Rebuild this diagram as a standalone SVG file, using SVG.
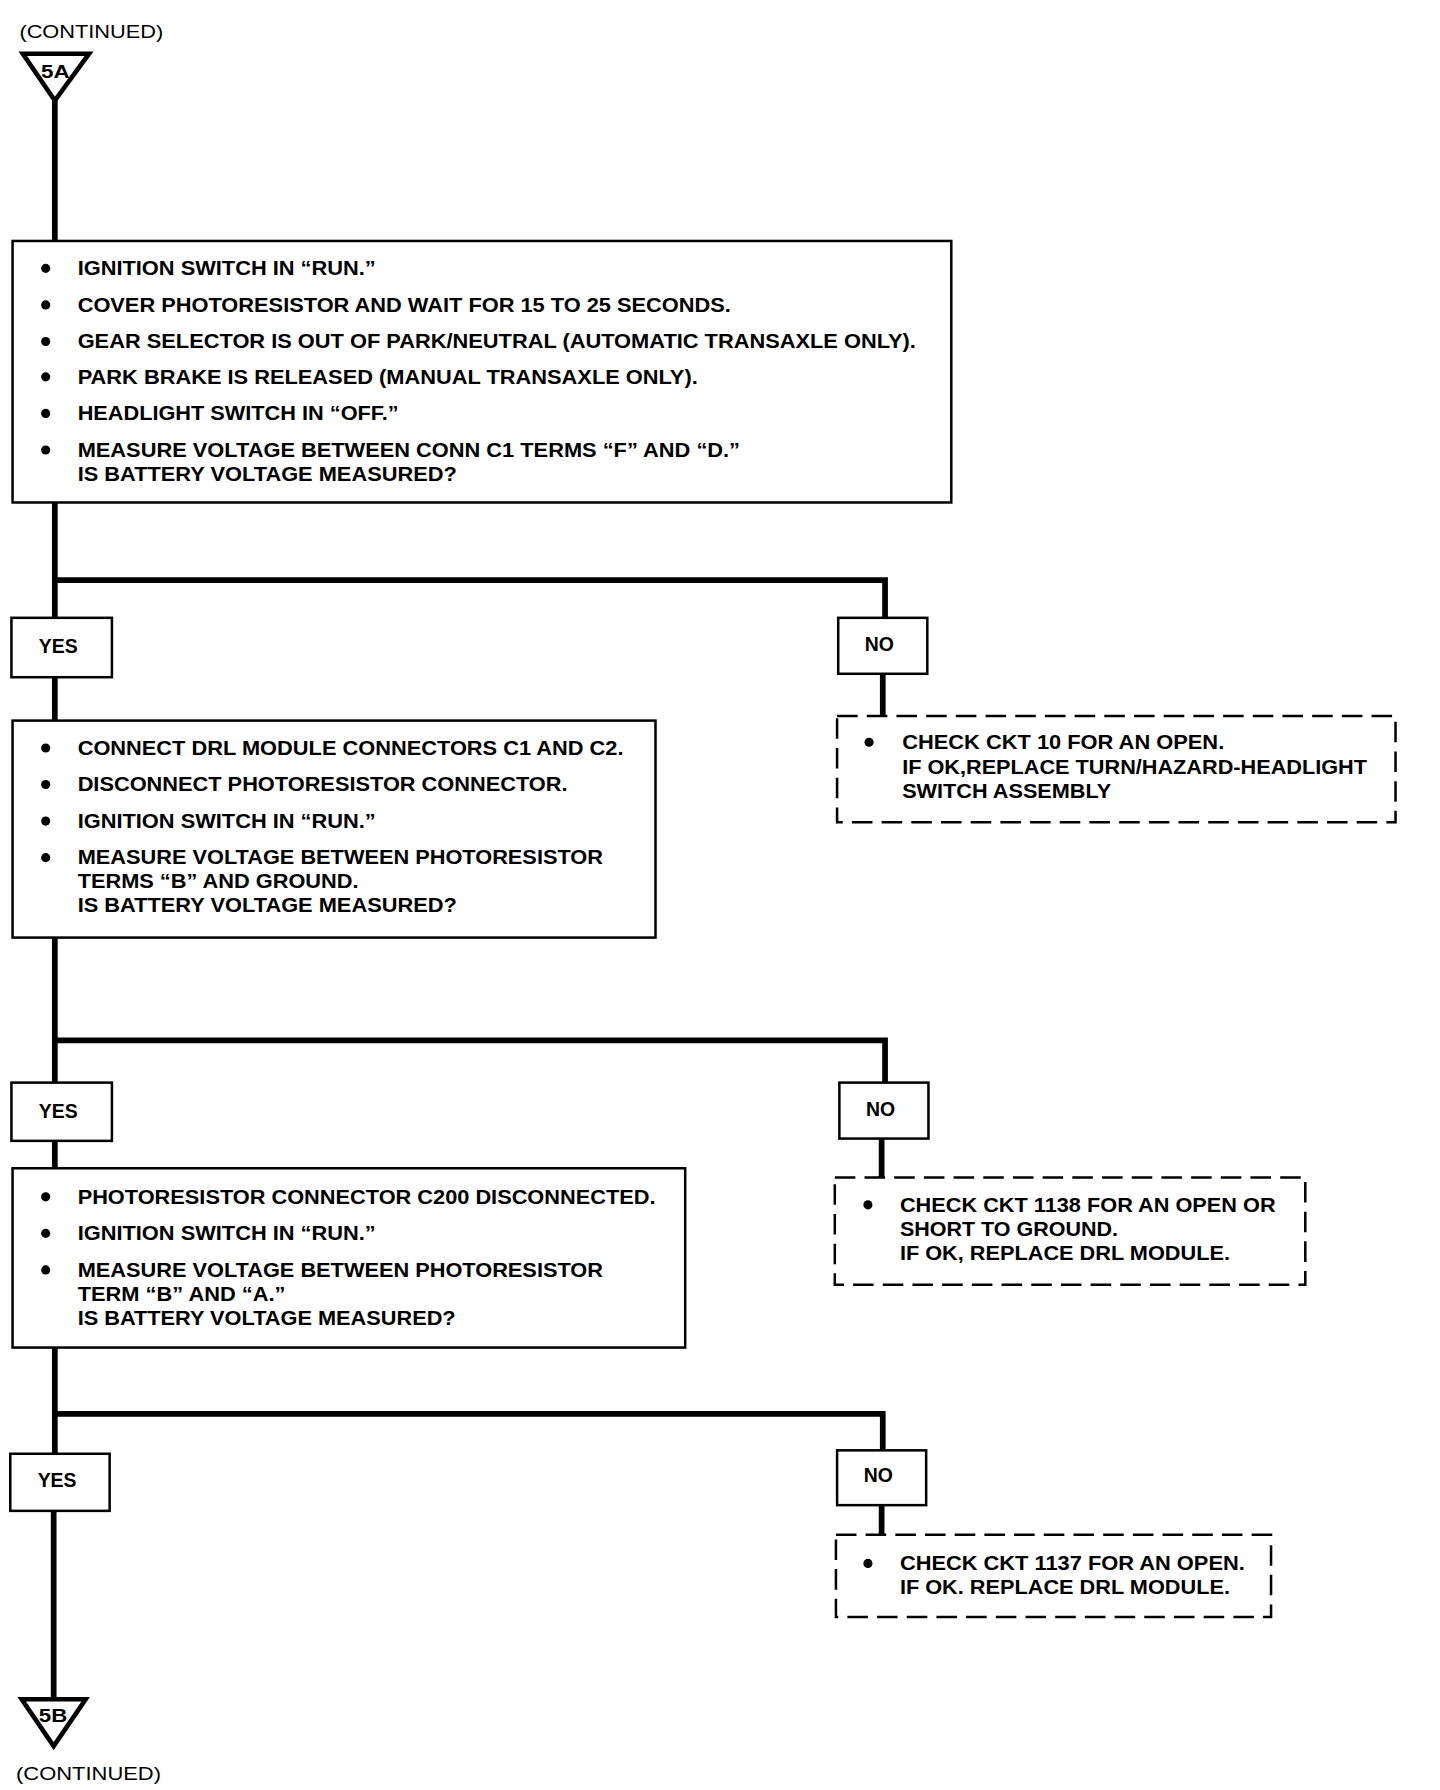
<svg xmlns="http://www.w3.org/2000/svg" width="1440" height="1790" viewBox="0 0 1440 1790">
<style>
.bg{fill:#fff}
.box{fill:#fff;stroke:#000;stroke-width:2.2}
.dbox{fill:#fff;stroke:#000;stroke-width:2.2;stroke-dasharray:18 8}
.tri{fill:#fff;stroke:#000;stroke-width:4;stroke-linejoin:miter}
.wire{fill:none;stroke:#000;stroke-width:5;stroke-linecap:square}
.t{font-family:"Liberation Sans",Arial,sans-serif;font-weight:bold;font-size:17px;fill:#000}
.lab{font-family:"Liberation Sans",Arial,sans-serif;font-weight:bold;font-size:17px;fill:#000;text-anchor:middle}
.cont{font-family:"Liberation Sans",Arial,sans-serif;font-size:16px;fill:#000}
.off{font-family:"Liberation Sans",Arial,sans-serif;font-weight:bold;font-size:16px;fill:#000}
.dot{fill:#000}
</style>
<rect class="bg" x="0" y="0" width="1440" height="1790"/>
<g transform="scale(1.142)">
<g id="connectors">
<path class="wire" d="M48 88 V211"/>
<path class="wire" d="M48 440 V541 M48 508 H775 V541"/>
<path class="wire" d="M48 593 V631"/>
<path class="wire" d="M773 590 V627"/>
<path class="wire" d="M48 821 V948 M48 911 H775 V948"/>
<path class="wire" d="M48 999 V1023"/>
<path class="wire" d="M772 997 V1031"/>
<path class="wire" d="M48 1180 V1273 M48 1238 H773 V1270"/>
<path class="wire" d="M772 1318 V1344"/>
<path class="wire" d="M47 1323 V1488"/>
</g>
<g id="start">
<text class="cont" x="17" y="33" textLength="126" lengthAdjust="spacingAndGlyphs">(CONTINUED)</text>
<path class="tri" d="M20 47 H78 L48 88 Z"/>
<text class="off" x="36" y="68" textLength="25" lengthAdjust="spacingAndGlyphs">5A</text>
</g>
<g id="step1">
<rect class="box" x="11" y="211" width="822" height="229"/>
<circle class="dot" cx="40" cy="235" r="4"/>
<text class="t" x="68" y="241" textLength="261" lengthAdjust="spacingAndGlyphs">IGNITION SWITCH IN “RUN.”</text>
<circle class="dot" cx="40" cy="267" r="4"/>
<text class="t" x="68" y="273" textLength="572" lengthAdjust="spacingAndGlyphs">COVER PHOTORESISTOR AND WAIT FOR 15 TO 25 SECONDS.</text>
<circle class="dot" cx="40" cy="299" r="4"/>
<text class="t" x="68" y="305" textLength="734" lengthAdjust="spacingAndGlyphs">GEAR SELECTOR IS OUT OF PARK/NEUTRAL (AUTOMATIC TRANSAXLE ONLY).</text>
<circle class="dot" cx="40" cy="330" r="4"/>
<text class="t" x="68" y="336" textLength="543" lengthAdjust="spacingAndGlyphs">PARK BRAKE IS RELEASED (MANUAL TRANSAXLE ONLY).</text>
<circle class="dot" cx="40" cy="362" r="4"/>
<text class="t" x="68" y="368" textLength="281" lengthAdjust="spacingAndGlyphs">HEADLIGHT SWITCH IN “OFF.”</text>
<circle class="dot" cx="40" cy="394" r="4"/>
<text class="t" x="68" y="400" textLength="580" lengthAdjust="spacingAndGlyphs">MEASURE VOLTAGE BETWEEN CONN C1 TERMS “F” AND “D.”</text>
<text class="t" x="68" y="421" textLength="332" lengthAdjust="spacingAndGlyphs">IS BATTERY VOLTAGE MEASURED?</text>
</g>
<g id="yes1">
<rect class="box" x="10" y="541" width="88" height="52"/>
<text class="lab" x="51" y="572">YES</text>
</g>
<g id="no1">
<rect class="box" x="734" y="541" width="78" height="49"/>
<text class="lab" x="770" y="570">NO</text>
</g>
<g id="step2">
<rect class="box" x="11" y="631" width="563" height="190"/>
<circle class="dot" cx="40" cy="655" r="4"/>
<text class="t" x="68" y="661" textLength="478" lengthAdjust="spacingAndGlyphs">CONNECT DRL MODULE CONNECTORS C1 AND C2.</text>
<circle class="dot" cx="40" cy="687" r="4"/>
<text class="t" x="68" y="693" textLength="429" lengthAdjust="spacingAndGlyphs">DISCONNECT PHOTORESISTOR CONNECTOR.</text>
<circle class="dot" cx="40" cy="719" r="4"/>
<text class="t" x="68" y="725" textLength="261" lengthAdjust="spacingAndGlyphs">IGNITION SWITCH IN “RUN.”</text>
<circle class="dot" cx="40" cy="751" r="4"/>
<text class="t" x="68" y="757" textLength="460" lengthAdjust="spacingAndGlyphs">MEASURE VOLTAGE BETWEEN PHOTORESISTOR</text>
<text class="t" x="68" y="778" textLength="246" lengthAdjust="spacingAndGlyphs">TERMS “B” AND GROUND.</text>
<text class="t" x="68" y="799" textLength="332" lengthAdjust="spacingAndGlyphs">IS BATTERY VOLTAGE MEASURED?</text>
</g>
<g id="fix1">
<rect class="dbox" x="733" y="627" width="489" height="93"/>
<circle class="dot" cx="761" cy="650" r="4"/>
<text class="t" x="790" y="656" textLength="282" lengthAdjust="spacingAndGlyphs">CHECK CKT 10 FOR AN OPEN.</text>
<text class="t" x="790" y="678" textLength="407" lengthAdjust="spacingAndGlyphs">IF OK,REPLACE TURN/HAZARD-HEADLIGHT</text>
<text class="t" x="790" y="699" textLength="183" lengthAdjust="spacingAndGlyphs">SWITCH ASSEMBLY</text>
</g>
<g id="yes2">
<rect class="box" x="10" y="948" width="88" height="51"/>
<text class="lab" x="51" y="979">YES</text>
</g>
<g id="no2">
<rect class="box" x="735" y="948" width="78" height="49"/>
<text class="lab" x="771" y="977">NO</text>
</g>
<g id="step3">
<rect class="box" x="11" y="1023" width="589" height="157"/>
<circle class="dot" cx="40" cy="1048" r="4"/>
<text class="t" x="68" y="1054" textLength="506" lengthAdjust="spacingAndGlyphs">PHOTORESISTOR CONNECTOR C200 DISCONNECTED.</text>
<circle class="dot" cx="40" cy="1080" r="4"/>
<text class="t" x="68" y="1086" textLength="261" lengthAdjust="spacingAndGlyphs">IGNITION SWITCH IN “RUN.”</text>
<circle class="dot" cx="40" cy="1112" r="4"/>
<text class="t" x="68" y="1118" textLength="460" lengthAdjust="spacingAndGlyphs">MEASURE VOLTAGE BETWEEN PHOTORESISTOR</text>
<text class="t" x="68" y="1139" textLength="182" lengthAdjust="spacingAndGlyphs">TERM “B” AND “A.”</text>
<text class="t" x="68" y="1160" textLength="331" lengthAdjust="spacingAndGlyphs">IS BATTERY VOLTAGE MEASURED?</text>
</g>
<g id="fix2">
<rect class="dbox" x="731" y="1031" width="412" height="94"/>
<circle class="dot" cx="760" cy="1055" r="4"/>
<text class="t" x="788" y="1061" textLength="329" lengthAdjust="spacingAndGlyphs">CHECK CKT 1138 FOR AN OPEN OR</text>
<text class="t" x="788" y="1082" textLength="191" lengthAdjust="spacingAndGlyphs">SHORT TO GROUND.</text>
<text class="t" x="788" y="1103" textLength="289" lengthAdjust="spacingAndGlyphs">IF OK, REPLACE DRL MODULE.</text>
</g>
<g id="yes3">
<rect class="box" x="9" y="1273" width="87" height="50"/>
<text class="lab" x="50" y="1302">YES</text>
</g>
<g id="no3">
<rect class="box" x="733" y="1270" width="78" height="48"/>
<text class="lab" x="769" y="1298">NO</text>
</g>
<g id="fix3">
<rect class="dbox" x="732" y="1344" width="381" height="72"/>
<circle class="dot" cx="760" cy="1369" r="4"/>
<text class="t" x="788" y="1375" textLength="302" lengthAdjust="spacingAndGlyphs">CHECK CKT 1137 FOR AN OPEN.</text>
<text class="t" x="788" y="1396" textLength="289" lengthAdjust="spacingAndGlyphs">IF OK. REPLACE DRL MODULE.</text>
</g>
<g id="end">
<path class="tri" d="M19 1488 H75 L47 1529 Z"/>
<text class="off" x="34" y="1508" textLength="25" lengthAdjust="spacingAndGlyphs">5B</text>
<text class="cont" x="14" y="1559" textLength="127" lengthAdjust="spacingAndGlyphs">(CONTINUED)</text>
</g>
</g>
</svg>
